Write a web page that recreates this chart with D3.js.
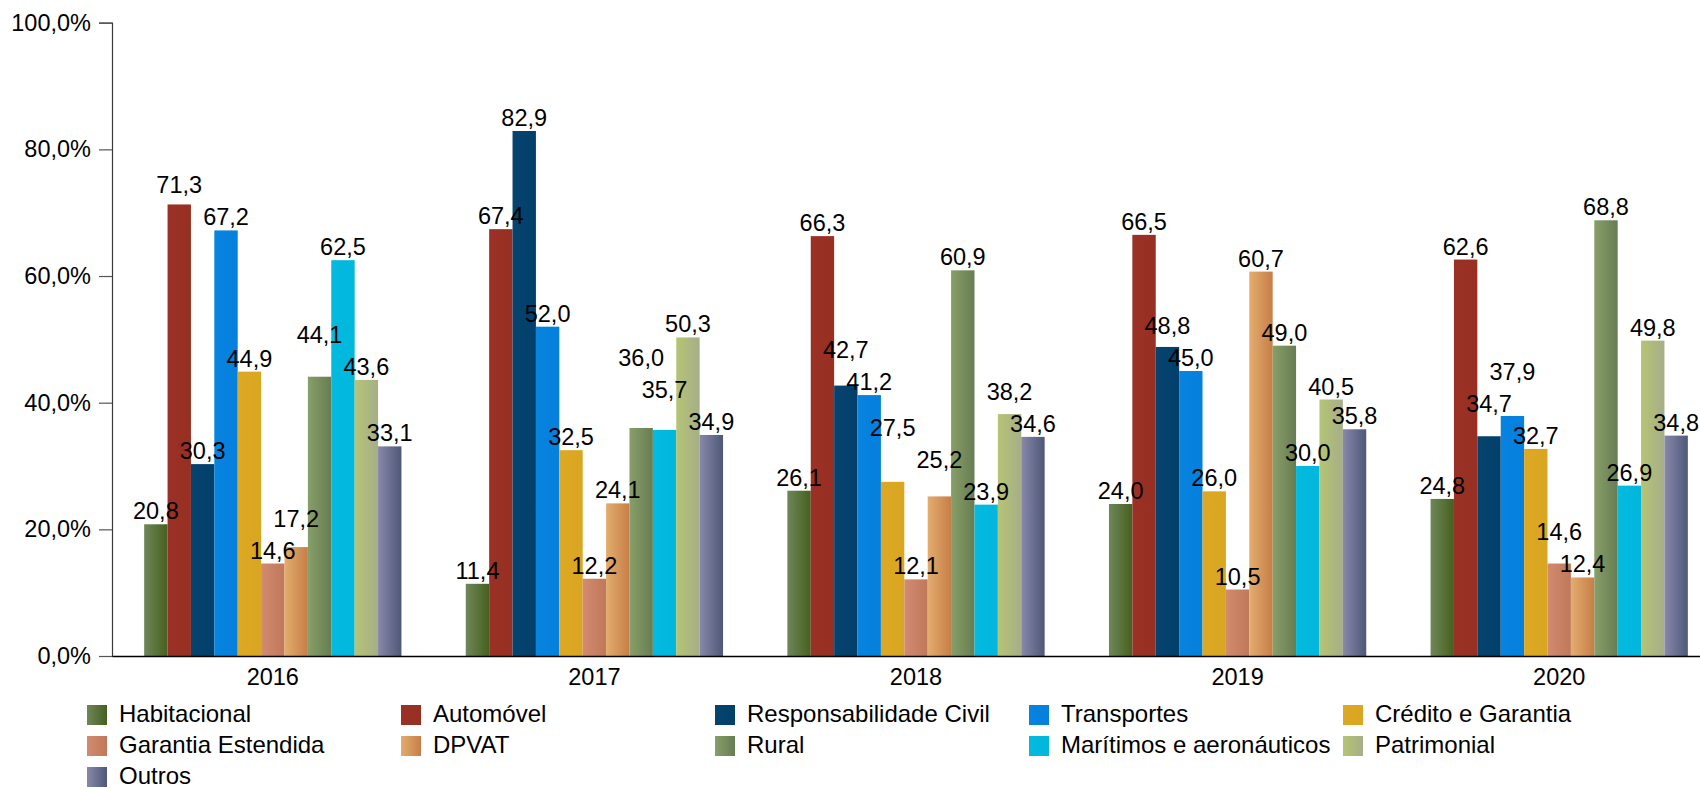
<!DOCTYPE html>
<html>
<head>
<meta charset="utf-8">
<script src="https://cdn.jsdelivr.net/npm/d3@7"></script>
<style>
  html, body { margin: 0; padding: 0; background: #fff; }
  svg { display: block; }
  text { font-family: "Liberation Sans", Arial, Helvetica, sans-serif; fill: #000; }
</style>
</head>
<body>
<svg id="chart" width="1700" height="789"></svg>
<script>
// ---- Data ----
const years = ["2016", "2017", "2018", "2019", "2020"];
const seriesNames = [
  "Habitacional", "Automóvel", "Responsabilidade Civil", "Transportes", "Crédito e Garantia",
  "Garantia Estendida", "DPVAT", "Rural", "Marítimos e aeronáuticos", "Patrimonial", "Outros"
];
const habitacional = [20.8, 11.4, 26.1, 24.0, 24.8];
const automovel = [71.3, 67.4, 66.3, 66.5, 62.6];
const responsabilidadeCivil = [30.3, 82.9, 42.7, 48.8, 34.7];
const transportes = [67.2, 52.0, 41.2, 45.0, 37.9];
const creditoGarantia = [44.9, 32.5, 27.5, 26.0, 32.7];
const garantiaEstendida = [14.6, 12.2, 12.1, 10.5, 14.6];
const dpvat = [17.2, 24.1, 25.2, 60.7, 12.4];
const rural = [44.1, 36.0, 60.9, 49.0, 68.8];
const maritimos = [62.5, 35.7, 23.9, 30.0, 26.9];
const patrimonial = [43.6, 50.3, 38.2, 40.5, 49.8];
const outros = [33.1, 34.9, 34.6, 35.8, 34.8];
const yTicks = [0, 20, 40, 60, 80, 100];

const seriesValues = [habitacional, automovel, responsabilidadeCivil, transportes, creditoGarantia,
  garantiaEstendida, dpvat, rural, maritimos, patrimonial, outros];

// colours: [left, right] (gradient) per series
const seriesColors = [
  ["#6f8759", "#45601e"],
  ["#9b3126", "#972f22"],
  ["#06436f", "#033f6b"],
  ["#0784e0", "#0580dc"],
  ["#dda925", "#d9a621"],
  ["#d38b70", "#bf7859"],
  ["#e3ad6e", "#c67e47"],
  ["#879f69", "#687c52"],
  ["#03badf", "#02b6dc"],
  ["#b6c474", "#a6ae88"],
  ["#8888aa", "#4e5878"]
];

(function () {
  // ---- Layout ----
  const plotLeft = 112, plotBottom = 656, plotTop = 22.7;
  const svg = d3.select("#chart");
  const defs = svg.append("defs");

  seriesColors.forEach((c, i) => {
    const g = defs.append("linearGradient").attr("id", "grad" + i)
      .attr("x1", "0%").attr("x2", "100%").attr("y1", "0%").attr("y2", "0%");
    g.append("stop").attr("offset", "0%").attr("stop-color", c[0]);
    g.append("stop").attr("offset", "100%").attr("stop-color", c[1]);
  });

  const locale = d3.formatLocale({ decimal: ",", thousands: ".", grouping: [3], currency: ["R$", ""] });
  const fmt1 = locale.format(".1f");

  const x0 = d3.scaleBand().domain(years).range([plotLeft, 1720]).paddingInner(0.2).paddingOuter(0.1);
  const x1 = d3.scaleBand().domain(d3.range(seriesNames.length)).range([0, x0.bandwidth()]).padding(0);
  const y = d3.scaleLinear().domain([0, 100]).range([plotBottom, plotTop]);

  const fontSize = 23.5;

  // Y axis
  const yAxis = d3.axisLeft(y).tickValues(yTicks).tickSize(13).tickPadding(8)
    .tickFormat(d => fmt1(d) + "%");
  const gy = svg.append("g").attr("transform", `translate(${plotLeft},0)`).call(yAxis);
  gy.select(".domain").attr("stroke", "#3a3a3a").attr("stroke-width", 1.2);
  gy.selectAll(".tick line").attr("stroke", "#555").attr("stroke-width", 1.2);
  gy.selectAll(".tick text").style("font-size", fontSize + "px")
    .style("font-family", '"Liberation Sans", Arial, sans-serif').attr("fill", "#000");

  // Bars
  const groups = svg.append("g").selectAll("g.year").data(years).join("g")
    .attr("class", "year").attr("transform", d => `translate(${x0(d)},0)`);

  groups.each(function (yr, gi) {
    const g = d3.select(this);
    seriesValues.forEach((vals, si) => {
      g.append("rect")
        .attr("x", x1(si))
        .attr("y", y(vals[gi]))
        .attr("width", x1.bandwidth())
        .attr("height", y(0) - y(vals[gi]))
        .attr("fill", `url(#grad${si})`);
    });
  });

  // X axis
  const xAxis = d3.axisBottom(x0).tickSize(0).tickPadding(12);
  const gx = svg.append("g").attr("transform", `translate(0,${plotBottom})`).call(xAxis);
  gx.select(".domain").attr("stroke", "#000").attr("stroke-width", 1.6);
  gx.selectAll(".tick text").style("font-size", fontSize + "px")
    .style("font-family", '"Liberation Sans", Arial, sans-serif').attr("fill", "#000");

  // Data labels with simple overlap avoidance (lower values placed first, higher pushed up)
  const labelLayer = svg.append("g");
  years.forEach((yr, gi) => {
    const order = d3.range(seriesNames.length).sort((a, b) => seriesValues[a][gi] - seriesValues[b][gi] || a - b);
    const placed = [];
    order.forEach(si => {
      const v = seriesValues[si][gi];
      const cx = x0(yr) + x1(si) + x1.bandwidth() / 2;
      const t = labelLayer.append("text")
        .attr("text-anchor", "middle")
        .style("font-size", fontSize + "px")
        .attr("x", cx)
        .text(fmt1(v));
      const w = t.node().getComputedTextLength() + 6;
      let base = y(v) - 5;
      let changed = true, iter = 0;
      while (changed && iter < 50) {
        changed = false; iter++;
        for (const p of placed) {
          const hOver = Math.abs(cx - p.cx) < (w + p.w) / 2;
          const vOver = (base - 22) < (p.base + 5) && (base + 5) > (p.base - 22);
          if (hOver && vOver) { base = p.base - 32; changed = true; }
        }
      }
      t.attr("y", base);
      placed.push({ cx, w, base });
    });
  });

  // Legend
  const legendCols = 5;
  const legend = svg.append("g");
  seriesNames.forEach((name, i) => {
    const col = i % legendCols, row = Math.floor(i / legendCols);
    const lx = 87 + col * 314;
    const ly = 705 + row * 31;
    legend.append("rect").attr("x", lx).attr("y", ly).attr("width", 20).attr("height", 20)
      .attr("fill", `url(#grad${i})`);
    legend.append("text").attr("x", lx + 32).attr("y", ly + 16.5)
      .style("font-size", "24px").text(name);
  });
})();
</script>
</body>
</html>
